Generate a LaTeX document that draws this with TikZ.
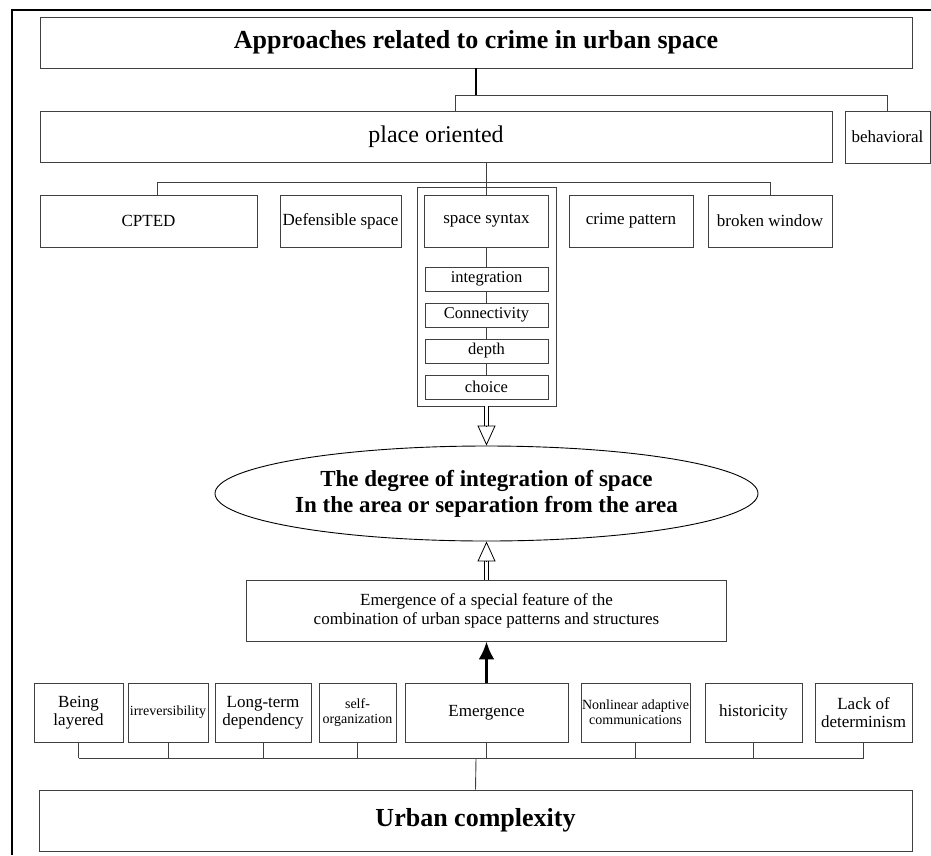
\documentclass[tikz,border=0pt]{standalone}
\usepackage{fontspec}
\setmainfont{Liberation Serif}
\usetikzlibrary{shapes.geometric, arrows.meta}

\begin{document}
\begin{tikzpicture}[x=1pt, y=-1pt,
  box/.style={draw=black!75, line width=.9pt, inner sep=0pt, align=center, font=\fontsize{17}{18}\selectfont},
  link/.style={draw=black!75, line width=.9pt},
  hollow/.style={double=white, double distance=2.6pt, line width=.8pt, shorten >=20pt},
  hollowtip/.style={-{Triangle[open, length=20pt, width=18pt]}, line width=.8pt}]
\useasboundingbox (0,0) rectangle (931,855);
\draw[line width=1.4pt] (12,855) -- (12,10) -- (931,10);
\node[box, minimum width=872pt, minimum height=51pt, font=\bfseries\fontsize{26}{30}\selectfont] (T) at (476,42.5) {Approaches related to crime in urban space};
\node[box, minimum width=792pt, minimum height=51pt, font=\fontsize{24}{28}\selectfont] (P) at (436,136.5) {place oriented};
\node[box, minimum width=85pt, minimum height=52pt] (B) at (887.5,137) {behavioral};
\coordinate (jT) at (476,95);
\coordinate (jP) at (455,95);
\coordinate (jB) at (887.5,95);
\draw[line width=1.8pt] (T.south) -- (jT);
\draw[link] (P.north -| jP) -- (jP) -- (jB) -- (B.north);
\node[box, minimum width=139pt, minimum height=219pt] (S) at (486.5,296.5) {};
\node[box, minimum width=217pt, minimum height=52pt] (R1) at (148.5,221) {CPTED};
\node[box, minimum width=121pt, minimum height=52pt] (R2) at (340.5,221) {Defensible space};
\node[box, minimum width=124pt, minimum height=52pt] (R3) at (486.5,221) {space syntax};
\node[box, minimum width=124pt, minimum height=52pt] (R4) at (631,221) {crime pattern};
\node[box, minimum width=124pt, minimum height=52pt] (R5) at (770,221) {broken window};
\coordinate (jR1) at (157,182);
\coordinate (jR2) at (770,182);
\draw[link] (jR1 |- R1.north) -- (jR1) -- (jR2) -- (R5.north);
\draw[link] (P.south -| R3.north) -- (R3.north);
\foreach \t [count=\i] in {integration, Connectivity, depth, choice}
  \node[box, minimum width=123pt, minimum height=24pt, font=\fontsize{16.5}{18}\selectfont] (S\i) at (486.5,243+36*\i) {\t};
\draw[link] (R3.south) -- (S1.north);
\foreach \i/\j in {1/2, 2/3, 3/4}
  \draw[link] (S\i.south) -- (S\j.north);
\node[box, draw=black, ellipse, minimum width=543pt, minimum height=95pt, font=\bfseries\fontsize{23}{26}\selectfont] (E) at (486.5,493.5) {The degree of integration of space\\In the area or separation from the area};
\draw[hollow] (S.south) -- (E.north);
\draw[hollowtip] ([yshift=20pt]E.north) -- (E.north);
\node[box, minimum width=480pt, minimum height=61pt, font=\fontsize{17}{19}\selectfont] (F) at (486.5,610.5) {Emergence of a special feature of the\\combination of urban space patterns and structures};
\draw[hollow] (F.north) -- (E.south);
\draw[hollowtip] ([yshift=-20pt]E.south) -- (E.south);
\node[box, minimum width=89pt, minimum height=59pt] (L1) at (78.5,712.5) {Being\\layered};
\node[box, minimum width=80pt, minimum height=59pt, font=\fontsize{14}{15}\selectfont] (L2) at (168,712.5) {irreversibility};
\node[box, minimum width=96pt, minimum height=59pt] (L3) at (263,712.5) {Long-term\\dependency};
\node[box, minimum width=77pt, minimum height=59pt, font=\fontsize{14}{15}\selectfont] (L4) at (357.5,712.5) {self-\\organization};
\node[box, minimum width=163pt, minimum height=59pt] (L5) at (486.5,712.5) {Emergence};
\node[box, minimum width=109pt, minimum height=59pt, font=\fontsize{14}{15}\selectfont] (L6) at (635.5,712.5) {Nonlinear adaptive\\communications};
\node[box, minimum width=97pt, minimum height=59pt] (L7) at (753.5,712.5) {historicity};
\node[box, minimum width=97pt, minimum height=59pt] (L8) at (863.5,712.5) {Lack of\\determinism};
\node[box, minimum width=873pt, minimum height=61pt, font=\bfseries\fontsize{26}{30}\selectfont] (U) at (475.5,820.5) {Urban complexity};
\draw[line width=3pt, -{Latex[length=18pt, width=16pt]}] (L5.north) -- (F.south);
\coordinate (jL) at (476,758);
\foreach \i in {1,...,8}
  \draw[link] (L\i.south) -- (L\i.south |- jL);
\draw[link] (L1.south |- jL) -- (L8.south |- jL);
\draw[link] (jL) -- (U.north);
\end{tikzpicture}
\end{document}
